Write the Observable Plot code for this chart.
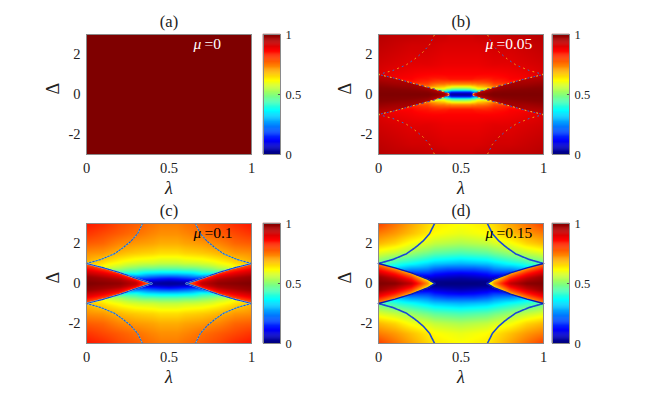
<!DOCTYPE html>
<html><head><meta charset="utf-8">
<script src="https://cdn.jsdelivr.net/npm/d3@7"></script>
<script src="https://cdn.jsdelivr.net/npm/@observablehq/plot@0.6"></script>
<style>
html,body{margin:0;padding:0;background:#fff}
#fig{position:relative;width:664px;height:398px;overflow:hidden;background:#fff}
#fig svg{position:absolute;background:transparent;overflow:visible}
</style></head><body><div id="fig"></div>
<script>
// colour map stops
const jetStops = [0, 0.11, 0.36, 0.61, 0.86, 1];
const jetColors = ["#00007f", "#0000ff", "#00ffff", "#ffff00", "#ff0000", "#7f0000"];
const colorTicks = [0, 0.5, 1];
const outerRows = [0.1, 0.25, 0.5, 0.75, 1, 1.5, 2, 2.5, 3];
const wedgeFractions = [0, 1/3, 2/3, 1];
const outerCurve = [[0,1],[0.087,1.2],[0.168,1.48],[0.22,1.78],[0.27,2.12],[0.31,2.5],[0.34,3]];

// panel (a): flat field
const aLambda = [0, 0.5];
const aEdge = [0, 0];
const aEdgeOut = [1, 1];
const aWedge = [null, null];
const aOuter = [
  [1,1,1,1,1,1,1,1,1],
  [1,1,1,1,1,1,1,1,1]];

// panel (b) mu=0.05
const bLambda = [0, 0.1, 0.2, 0.3, 0.4, 0.436, 0.44, 0.47, 0.5];
const bEdge = [1, 0.81, 0.58, 0.36, 0.13, 0, 0, 0, 0];
const bEdgeOut = [0.9, 0.87, 0.83, 0.73, 0.32, null, 0.02, 0.01, 0.01];
const bWedge = [
  [1,0.99,0.96,0.92],[1,0.99,0.96,0.94],[1,0.99,0.97,0.95],[1,0.99,0.97,0.94],[0.98,0.96,0.93,0.88],[0.8],null,null,null];
const bOuter = [
  [null,null,null,null,0.9,0.91,0.92,0.93,0.94],
  [null,null,null,null,0.88,0.9,0.91,0.92,0.93],
  [null,null,null,0.86,0.87,0.89,0.9,0.91,0.93],
  [null,null,0.79,0.84,0.86,0.89,0.9,0.91,0.92],
  [null,0.58,0.74,0.83,0.86,0.88,0.89,0.9,0.92],
  [0.15,0.5,0.73,0.84,0.86,0.88,0.89,0.9,0.91],
  [0.1,0.47,0.72,0.84,0.86,0.88,0.89,0.9,0.91],
  [0.1,0.45,0.72,0.84,0.86,0.88,0.89,0.9,0.91],
  [0.1,0.45,0.72,0.84,0.86,0.88,0.89,0.9,0.91]];

// panel (c) mu=0.1
const cLambda = [0, 0.1, 0.2, 0.3, 0.396, 0.4, 0.45, 0.5];
const cEdge = [1, 0.79, 0.55, 0.26, 0, 0, 0, 0];
const cEdgeOut = [0.68, 0.6, 0.42, 0.18, null, 0.03, 0.02, 0.02];
const cWedge = [
  [1,0.97,0.88,0.76],[0.99,0.96,0.88,0.77],[0.98,0.95,0.88,0.78],[0.93,0.91,0.85,0.78],[0.72],null,null,null];
const cOuter = [
  [null,null,null,null,0.66,0.72,0.77,0.81,0.84],
  [null,null,null,null,0.64,0.71,0.76,0.79,0.82],
  [null,null,null,0.53,0.6,0.68,0.73,0.77,0.79],
  [null,null,0.38,0.49,0.57,0.66,0.71,0.75,0.77],
  [0.06,0.16,0.33,0.47,0.56,0.65,0.7,0.73,0.75],
  [0.06,0.16,0.33,0.47,0.56,0.65,0.7,0.73,0.75],
  [0.05,0.14,0.32,0.46,0.55,0.64,0.69,0.72,0.74],
  [0.04,0.13,0.32,0.46,0.55,0.64,0.69,0.72,0.74]];

// panel (d) mu=0.15
const dLambda = [0, 0.1, 0.2, 0.3, 0.344, 0.35, 0.42, 0.5];
const dEdge = [1, 0.78, 0.53, 0.21, 0, 0, 0, 0];
const dEdgeOut = [0.46, 0.33, 0.17, 0.03, null, 0.01, 0, 0];
const dWedge = [
  [1,0.97,0.86,0.72],[0.99,0.93,0.83,0.7],[0.93,0.86,0.78,0.68],[0.72,0.69,0.65,0.6],[0.5],null,null,null];
const dOuter = [
  [null,null,null,null,0.46,0.58,0.68,0.74,0.8],
  [null,null,null,null,0.41,0.55,0.65,0.71,0.75],
  [null,null,null,0.27,0.37,0.51,0.6,0.67,0.7],
  [null,0.05,0.16,0.25,0.33,0.47,0.57,0.63,0.65],
  [0.01,0.05,0.13,0.22,0.31,0.45,0.55,0.61,0.63],
  [0.01,0.05,0.13,0.22,0.31,0.45,0.55,0.61,0.63],
  [0.01,0.04,0.11,0.2,0.3,0.44,0.54,0.6,0.62],
  [0.01,0.03,0.1,0.2,0.29,0.43,0.53,0.59,0.61]];

const panels = [
  {title:"(a)", mu:"=0",    ink:"#fff", left:86,  top:34,  cb:263, l:aLambda, e:aEdge, eo:aEdgeOut, w:aWedge, o:aOuter, outerLines:[], innerLines:[]},
  {title:"(b)", mu:"=0.05", ink:"#fff", left:378, top:34,  cb:552, l:bLambda, e:bEdge, eo:bEdgeOut, w:bWedge, o:bOuter,
    outerLines:[{stroke:"#f0a020",width:1,dash:"1,9",off:0},{stroke:"#3070d0",width:1,dash:"1,9",off:5}],
    innerLines:[{stroke:"#e8d040",width:1,dash:"1,5",off:0},{stroke:"#2060e0",width:1,dash:"1,5",off:3}]},
  {title:"(c)", mu:"=0.1",  ink:"#000", left:86,  top:223, cb:263, l:cLambda, e:cEdge, eo:cEdgeOut, w:cWedge, o:cOuter,
    outerLines:[{stroke:"#a0e8c0",width:1,dash:null,off:0},{stroke:"#1a5fd8",width:1.1,dash:"1.6,1.6",off:0}],
    innerLines:[{stroke:"#b0e8d0",width:1.4,dash:null,off:0},{stroke:"#1040d0",width:1.2,dash:"3,1",off:0}]},
  {title:"(d)", mu:"=0.15", ink:"#000", left:378, top:223, cb:552, l:dLambda, e:dEdge, eo:dEdgeOut, w:dWedge, o:dOuter,
    outerLines:[{stroke:"#1848d8",width:1.6,dash:"2.4,0.6",off:0}],
    innerLines:[{stroke:"#0818b8",width:1.5,dash:null,off:0}]}
];

const font = "'Liberation Serif','DejaVu Serif',serif";
const color = {type:"linear", domain:jetStops, range:jetColors};

// The read values as a table, one row per value.
function buildTable(p){
  const t = [];
  const add = (l,d,v)=>{
    if (v==null) return;
    for (const a of l<0.5?[l,1-l]:[l]) for (const b of d>0?[d,-d]:[d]) t.push({l:a,d:b,v});
  };
  p.l.forEach((l,i)=>{
    if (p.w[i]) p.w[i].forEach((v,k)=>add(l,(p.w[i].length>1?wedgeFractions[k]:0)*p.e[i],v));
    add(l,p.e[i]+0.001,p.eo[i]);
    outerRows.forEach((d,k)=>add(l,d,p.o[i][k]));
  });
  return t;
}
function lerpProfile(xs,vs,x){
  if (x<=xs[0]) return vs[0];
  for (let i=1;i<xs.length;i++) if (x<=xs[i]) {
    const t=(x-xs[i-1])/(xs[i]-xs[i-1]||1);
    return vs[i-1]+(vs[i]-vs[i-1])*t;
  }
  return vs[vs.length-1];
}
// A raster interpolator that keeps the jump across the wedge edges sharp.
function wedgeInterpolator(p){
  const n = p.l.length;
  const outer = p.l.map((_,i)=>{
    const e=p.e[i]; const xs=[],vs=[];
    const first = p.eo[i]!=null?p.eo[i]:p.eo[i+1];
    xs.push(0);vs.push(first);
    outerRows.forEach((d,k)=>{const v=p.o[i][k]; if(v!=null&&d>e){xs.push((d-e)/(3-e));vs.push(v);}});
    return {xs,vs};
  });
  const wedge = p.l.map((_,i)=>{
    const w=p.w[i]; if(!w) return null;
    return w.length>1?w:wedgeFractions.map(()=>w[0]);
  });
  return (index,width,height)=>{
    const F=new Float64Array(width*height);
    for(let py=0;py<height;py++){
      const d=Math.abs(3-6*(py+0.5)/height);
      for(let px=0;px<width;px++){
        let x=(px+0.5)/width; if(x>0.5)x=1-x;
        let i=0; while(i<n-2&&x>=p.l[i+1])i++;
        const t=Math.min(1,(x-p.l[i])/(p.l[i+1]-p.l[i]));
        const e=p.e[i]+(p.e[i+1]-p.e[i])*t;
        let v;
        if(d<e&&wedge[i]&&wedge[i+1]){
          const f=d/e;
          const a=lerpProfile(wedgeFractions,wedge[i],f),b=lerpProfile(wedgeFractions,wedge[i+1],f);
          v=a+(b-a)*t;
        } else {
          const u=(d-e)/(3-e);
          const a=lerpProfile(outer[i].xs,outer[i].vs,u),b=lerpProfile(outer[i+1].xs,outer[i+1].vs,u);
          v=a+(b-a)*t;
        }
        F[py*width+px]=v;
      }
    }
    return F;
  };
}
function buildCurves(p,path,base){
  const out=[]; let id=base;
  for (const fx of [0,1]) for (const fy of [1,-1]) {
    id++;
    for (const [l,d] of path) out.push({id,l:fx?1-l:l,d:fy*d});
  }
  return out;
}
const fig = document.getElementById("fig");
function place(el,left,top){el.style.left=left+"px";el.style.top=top+"px";fig.appendChild(el);}

for (const p of panels){
  const table = buildTable(p);
  const tip = p.l.findIndex((_,i)=>p.w[i] && p.w[i].length===1);
  const innerPath = tip>=0?p.l.slice(0,tip+1).map((l,i)=>[l,p.e[i]]):[];
  const outerPts = buildCurves(p,outerCurve,0), innerPts = buildCurves(p,innerPath,10);
  const lineMarks=(pts,ls)=>ls.map(s=>Plot.line(pts,{x:"l",y:"d",z:"id",stroke:s.stroke,strokeWidth:s.width,strokeDasharray:s.dash,strokeDashoffset:s.off,curve:"linear"}));
  const ml=50, mt=30, mb=45, mr=10;
  const chart = Plot.plot({
    width:ml+165+mr, height:mt+120+mb, marginLeft:ml, marginTop:mt, marginBottom:mb, marginRight:mr,
    style:{fontFamily:font,fontSize:"14px",color:"#222"},
    x:{domain:[0,1]}, y:{domain:[-3,3]}, color,
    marks:[
      Plot.raster(table,{x:"l",y:"d",fill:"v",x1:0,x2:1,y1:-3,y2:3,interpolate:wedgeInterpolator(p),pixelSize:1}),
      ...lineMarks(outerPts,p.outerLines),
      ...lineMarks(innerPts,p.innerLines),
      Plot.frame({stroke:"#8a8a8a",strokeWidth:1}),
      Plot.axisX({ticks:[0,0.5,1],tickSize:0,tickPadding:8,tickFormat:d=>String(d),label:null,fontSize:14.5}),
      Plot.axisY({ticks:[-2,0,2],tickSize:0,tickPadding:6,tickFormat:d=>String(d),label:null,fontSize:14.5}),
      Plot.text(["λ"],{text:d=>d,frameAnchor:"bottom",dy:34,lineAnchor:"middle",fontStyle:"italic",fontSize:18,fill:"#222"}),
      Plot.text(["Δ"],{text:d=>d,frameAnchor:"left",dx:-33,rotate:-90,lineAnchor:"middle",fontSize:18,fill:"#222"}),
      Plot.text([p.title],{text:d=>d,frameAnchor:"top",dy:-13,lineAnchor:"middle",fontSize:16.5,fill:"#222"}),
      Plot.text(["μ"],{text:d=>d,frameAnchor:"top-left",dx:107,dy:10,lineAnchor:"middle",textAnchor:"start",fontStyle:"italic",fontSize:15.5,fill:p.ink}),
      Plot.text([p.mu],{text:d=>d,frameAnchor:"top-left",dx:118,dy:10,lineAnchor:"middle",textAnchor:"start",fontSize:15.5,fill:p.ink})
    ]
  });
  place(chart,p.left-ml,p.top-mt);

  const levels = d3.range(0,1,1/128);
  const bar = Plot.plot({
    width:5+17+30, height:120+12, marginLeft:5, marginRight:30, marginTop:6, marginBottom:6,
    style:{fontFamily:font,fontSize:"12px",color:"#222"},
    x:{domain:[0,1],axis:null}, y:{domain:[0,1]}, color,
    marks:[
      Plot.rect(levels,{x1:0,x2:1,y1:d=>d,y2:d=>d+1/128,fill:d=>d,inset:-0.2}),
      Plot.frame({stroke:"#8a8a8a"}),
      Plot.ruleY([0.5],{x1:0.88,x2:1,stroke:"#555"}),
      Plot.axisY({anchor:"right",ticks:colorTicks,tickSize:0,tickPadding:5,tickFormat:d=>String(d),label:null,fontSize:12.5})
    ]
  });
  place(bar,p.cb-5,p.top-6);
}
</script></body></html>
